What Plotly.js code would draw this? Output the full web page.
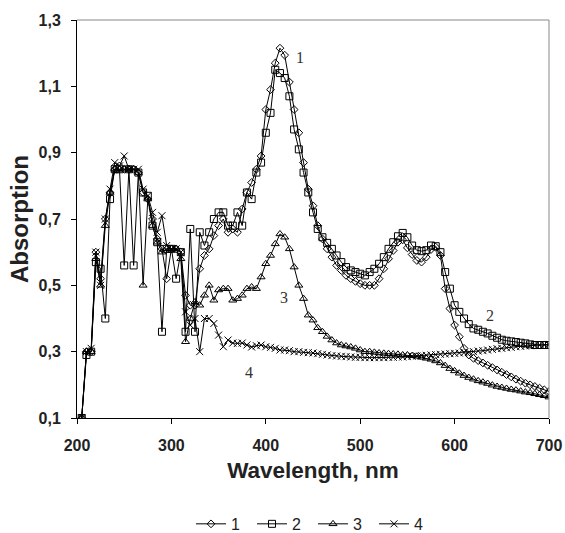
<!DOCTYPE html>
<html>
<head>
<meta charset="utf-8">
<script src="https://cdn.plot.ly/plotly-3.0.1.min.js"></script>
<style>html,body{margin:0;padding:0;background:#fff;}#chart{width:565px;height:533px;}</style>
</head>
<body>
<div id="chart"></div>
<script>
// Wavelength grid, nm
const wavelength = [205,210,215,220,225,230,235,240,245,250,255,260,265,270,275,280,285,290,295,300,305,310,315,320,325,
330,335,340,345,350,355,360,365,370,375,380,385,390,395,400,405,410,415,420,425,430,435,440,445,450,455,460,465,470,475,
480,485,490,495,500,505,510,515,520,525,530,535,540,545,550,555,560,565,570,575,580,585,590,595,600,605,610,615,620,625,
630,635,640,645,650,655,660,665,670,675,680,685,690,695,700];

const series1 = [0.10,0.30,0.30,0.60,0.52,0.70,0.78,0.85,0.86,0.85,0.85,0.85,0.84,0.78,0.76,0.70,0.64,0.61,0.52,0.61,0.61,0.60,0.47,0.44,0.44,
0.55,0.59,0.61,0.65,0.68,0.70,0.66,0.67,0.66,0.73,0.78,0.81,0.85,0.89,1.03,1.09,1.17,1.215,1.194,1.113,1.03,0.96,0.87,0.79,0.74,0.68,0.64,0.61,0.585,0.56,
0.545,0.53,0.52,0.512,0.505,0.50,0.50,0.50,0.52,0.55,0.58,0.605,0.63,0.637,0.613,0.593,0.575,0.57,0.585,0.608,0.615,0.59,0.49,0.43,0.38,0.345,0.31,0.29,0.28,0.273,
0.266,0.259,0.252,0.245,0.238,0.231,0.224,0.217,0.211,0.205,0.20,0.195,0.19,0.185,0.18];

const series2 = [0.10,0.29,0.30,0.57,0.55,0.40,0.76,0.85,0.85,0.56,0.85,0.56,0.84,0.78,0.77,0.68,0.63,0.36,0.61,0.61,0.52,0.60,0.36,0.67,0.36,
0.66,0.62,0.66,0.70,0.72,0.72,0.68,0.68,0.72,0.68,0.78,0.76,0.84,0.87,0.96,1.02,1.15,1.14,1.125,1.07,0.97,0.91,0.84,0.78,0.72,0.67,0.645,0.628,0.61,0.59,
0.57,0.555,0.545,0.54,0.535,0.53,0.54,0.55,0.565,0.585,0.61,0.63,0.648,0.658,0.645,0.62,0.606,0.603,0.606,0.62,0.618,0.60,0.54,0.49,0.44,0.42,0.40,0.383,0.37,0.366,
0.36,0.355,0.348,0.342,0.336,0.333,0.331,0.329,0.327,0.325,0.322,0.32,0.32,0.32,0.32];

const series3 = [0.10,0.30,0.30,0.58,0.50,0.68,0.78,0.85,0.85,0.85,0.85,0.85,0.84,0.50,0.76,0.68,0.63,0.60,0.61,0.61,0.61,0.58,0.33,0.40,0.45,
0.44,0.47,0.50,0.455,0.486,0.49,0.49,0.455,0.46,0.47,0.49,0.495,0.49,0.525,0.565,0.59,0.625,0.655,0.645,0.61,0.555,0.50,0.46,0.41,0.395,0.372,0.36,0.346,0.335,0.326,
0.32,0.317,0.314,0.31,0.305,0.30,0.30,0.298,0.296,0.295,0.294,0.293,0.292,0.29,0.29,0.288,0.286,0.283,0.28,0.277,0.272,0.266,0.258,0.249,0.242,0.235,0.228,0.222,0.217,0.212,
0.208,0.204,0.199,0.195,0.192,0.189,0.186,0.184,0.181,0.178,0.176,0.173,0.17,0.167,0.163];

const series4 = [0.10,0.30,0.31,0.60,0.50,0.70,0.79,0.87,0.86,0.89,0.85,0.85,0.85,0.79,0.77,0.72,0.66,0.71,0.62,0.61,0.61,0.60,0.42,0.38,0.40,
0.30,0.40,0.40,0.385,0.35,0.315,0.335,0.326,0.325,0.326,0.32,0.314,0.318,0.32,0.315,0.313,0.31,0.305,0.305,0.303,0.30,0.30,0.298,0.297,0.296,0.294,0.292,0.29,0.288,0.287,
0.286,0.285,0.284,0.283,0.283,0.282,0.282,0.282,0.282,0.282,0.283,0.283,0.284,0.284,0.285,0.286,0.287,0.288,0.289,0.29,0.291,0.292,0.293,0.294,0.295,0.296,0.297,0.298,0.30,0.302,
0.303,0.305,0.307,0.309,0.31,0.312,0.313,0.315,0.316,0.317,0.318,0.319,0.32,0.321,0.322];

const seriesNames = ['1','2','3','4'];
const curveLabels = ['1','2','3','4'];
const labelX = [436, 637, 419, 382];
const labelY = [1.188, 0.41, 0.462, 0.236];
const yTicks = [0.1,0.3,0.5,0.7,0.9,1.1,1.3];
const xTicks = [200,300,400,500,600,700];

const allSeries = [series1, series2, series3, series4];
const symbols = ['diamond-open','square-open','triangle-up-open','x-thin-open'];
const sizes = [6,7,7,7];

const traces = allSeries.map((s,i)=>({
  x: wavelength, y: s, name: seriesNames[i], type:'scatter', mode:'lines+markers',
  line:{color:'#000', width:1},
  marker:{symbol:symbols[i], size:sizes[i], color:'#000', line:{color:'#000', width:1}}
}));

const fam = 'Liberation Sans, Arial, sans-serif';
const axFont = {family:fam, size:16, color:'#222', weight:'bold'};

const layout = {
  width:565, height:533,
  margin:{l:77, r:16, t:20, b:115, autoexpand:false},
  paper_bgcolor:'#fff', plot_bgcolor:'#fff',
  separators:', ',
  showlegend:true,
  legend:{orientation:'h', x:0.5, xanchor:'center', xref:'paper', yref:'container', y:0.017, yanchor:'middle',
    font:{family:fam, size:16, color:'#222'},
    entrywidth:16, entrywidthmode:'pixels', itemwidth:30, tracegroupgap:0},
  xaxis:{range:[200,700], tickvals:xTicks, ticks:'outside', ticklen:5, tickcolor:'#000',
    showline:true, linecolor:'#000', linewidth:1, showgrid:false, zeroline:false, automargin:false,
    tickfont:axFont, ticklabelstandoff:8,
    title:{text:'Wavelength, nm', font:{family:fam, size:22.5, color:'#222', weight:'bold'}, standoff:9}},
  yaxis:{range:[0.1,1.3], tickvals:yTicks, tickformat:'.1f', ticks:'outside', ticklen:5, tickcolor:'#000',
    showline:true, linecolor:'#000', linewidth:1, showgrid:false, zeroline:false, automargin:false,
    tickfont:axFont, ticklabelstandoff:7,
    title:{text:'Absorption', font:{family:fam, size:24, color:'#222', weight:'bold'}, standoff:3}},
  shapes:[
    {type:'line', xref:'paper', yref:'paper', x0:0, x1:1, y0:1, y1:1, line:{color:'#888', width:1}},
    {type:'line', xref:'paper', yref:'paper', x0:1, x1:1, y0:0, y1:1, line:{color:'#888', width:1}}
  ],
  annotations: curveLabels.map((t,i)=>({x:labelX[i], y:labelY[i], xref:'x', yref:'y', text:t, showarrow:false,
    font:{family:'Liberation Serif, Times New Roman, serif', size:16, color:'#333'}}))
};

Plotly.newPlot('chart', traces, layout, {displayModeBar:false, staticPlot:true});
</script>
</body>
</html>
